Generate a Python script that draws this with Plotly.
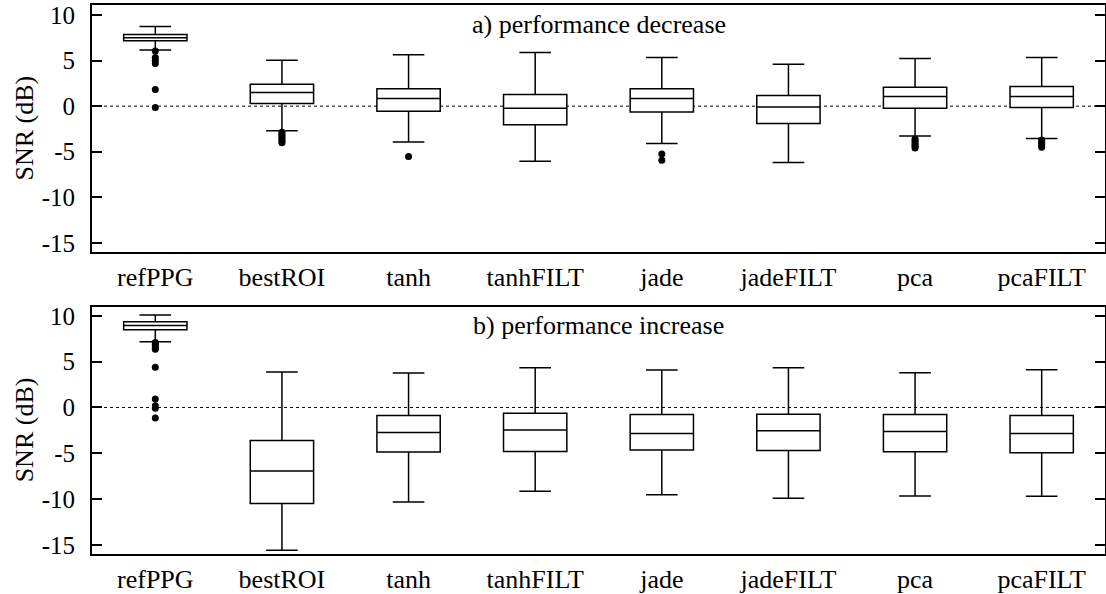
import plotly.graph_objects as go
from plotly.subplots import make_subplots

categories = ["refPPG", "bestROI", "tanh", "tanhFILT", "jade", "jadeFILT", "pca", "pcaFILT"]
y_ticks = [-15, -10, -5, 0, 5, 10]

# panel a) performance decrease
a_low = [6.15, -2.71, -3.92, -6.04, -4.10, -6.19, -3.26, -3.55]
a_q1 = [7.18, 0.29, -0.55, -2.05, -0.63, -1.91, -0.22, -0.15]
a_med = [7.50, 1.49, 0.84, -0.22, 0.84, -0.08, 1.05, 1.05]
a_q3 = [7.87, 2.41, 1.90, 1.28, 1.90, 1.17, 2.08, 2.15]
a_high = [8.75, 5.05, 5.63, 5.88, 5.34, 4.61, 5.23, 5.34]
a_outliers = {
    "refPPG": [6.05, 5.34, 5.05, 4.68, 1.82, -0.15],
    "bestROI": [-2.85, -3.05, -3.25, -3.45, -3.65, -3.85, -4.0],
    "tanh": [-5.53],
    "jade": [-5.25, -5.93],
    "pca": [-3.6, -3.8, -4.0, -4.2, -4.4, -4.6],
    "pcaFILT": [-3.7, -3.9, -4.1, -4.3, -4.5],
}

# panel b) performance increase
b_low = [7.16, -15.6, -10.32, -9.16, -9.52, -9.92, -9.66, -9.70]
b_q1 = [8.47, -10.5, -4.87, -4.80, -4.65, -4.69, -4.84, -4.94]
b_med = [8.94, -6.94, -2.73, -2.47, -2.84, -2.55, -2.62, -2.84]
b_q3 = [9.35, -3.60, -0.87, -0.62, -0.76, -0.73, -0.76, -0.87]
b_high = [10.1, 3.86, 3.75, 4.33, 4.08, 4.33, 3.79, 4.12]
b_outliers = {
    "refPPG": [7.1, 6.9, 6.7, 6.5, 6.35, 4.4, 0.91, 0.18, -0.1, -1.16],
}

titles = ["a) performance decrease", "b) performance increase"]

FONT = "Liberation Serif"

fig = make_subplots(rows=2, cols=1, vertical_spacing=0.0)

panels = [
    (a_low, a_q1, a_med, a_q3, a_high, a_outliers),
    (b_low, b_q1, b_med, b_q3, b_high, b_outliers),
]

for i, (lo, q1, med, q3, hi, outl) in enumerate(panels):
    row = i + 1
    fig.add_trace(go.Box(
        x=categories, q1=q1, median=med, q3=q3,
        lowerfence=lo, upperfence=hi,
        boxpoints=False, width=0.5, whiskerwidth=0.5,
        fillcolor="white", line=dict(color="black", width=1.5),
        showlegend=False, hoverinfo="skip",
    ), row=row, col=1)
    ox, oy = [], []
    for cat, vals in outl.items():
        for v in vals:
            ox.append(cat)
            oy.append(v)
    fig.add_trace(go.Scatter(
        x=ox, y=oy, mode="markers",
        marker=dict(color="black", size=7),
        showlegend=False, hoverinfo="skip",
    ), row=row, col=1)

for i in range(2):
    row = i + 1
    fig.update_xaxes(
        type="category", categoryorder="array", categoryarray=categories,
        range=[-0.5, 7.5], showgrid=False, zeroline=False, automargin=False,
        showline=True, linecolor="black", linewidth=2, mirror=True,
        ticks="", tickfont=dict(family=FONT, size=26, color="black"),
        ticklabelstandoff=1,
        row=row, col=1,
    )
    fig.update_yaxes(
        range=[-16, 11.1] if i == 0 else [-16, 11.0],
        tickvals=y_ticks, ticktext=[str(v) for v in y_ticks],
        showgrid=False, zeroline=False, automargin=False,
        showline=True, linecolor="black", linewidth=2, mirror="ticks",
        ticks="inside", ticklen=10, tickwidth=1.5, tickcolor="black",
        tickfont=dict(family=FONT, size=25, color="black"),
        ticklabelstandoff=10,
        row=row, col=1,
    )
    # dotted zero reference line
    fig.add_shape(type="line", xref="x domain" if i == 0 else "x2 domain",
                  yref="y" if i == 0 else "y2",
                  x0=0, x1=1, y0=0, y1=0,
                  line=dict(color="black", width=1, dash="dot"), layer="below")
    fig.add_annotation(
        text=titles[i], xref="x domain" if i == 0 else "x2 domain",
        yref="y domain" if i == 0 else "y2 domain",
        x=0.5, y=0.923 if i == 0 else 0.926, showarrow=False,
        xanchor="center", yanchor="middle",
        font=dict(family=FONT, size=26, color="black"),
    )
    fig.add_annotation(
        text="SNR (dB)", xref="paper",
        yref="y domain" if i == 0 else "y2 domain",
        x=(24 - 92) / 1013, y=0.5, showarrow=False, textangle=-90,
        xanchor="center", yanchor="middle",
        font=dict(family=FONT, size=26, color="black"),
    )

fig.update_layout(
    width=1106, height=594,
    margin=dict(l=92, r=1, t=5, b=40),
    plot_bgcolor="white", paper_bgcolor="white",
    font=dict(family=FONT, color="black"),
)
fig.layout.yaxis.domain = [302 / 549, 1.0]
fig.layout.yaxis2.domain = [0.0, 247.3 / 549]

fig.write_html("out.html")
